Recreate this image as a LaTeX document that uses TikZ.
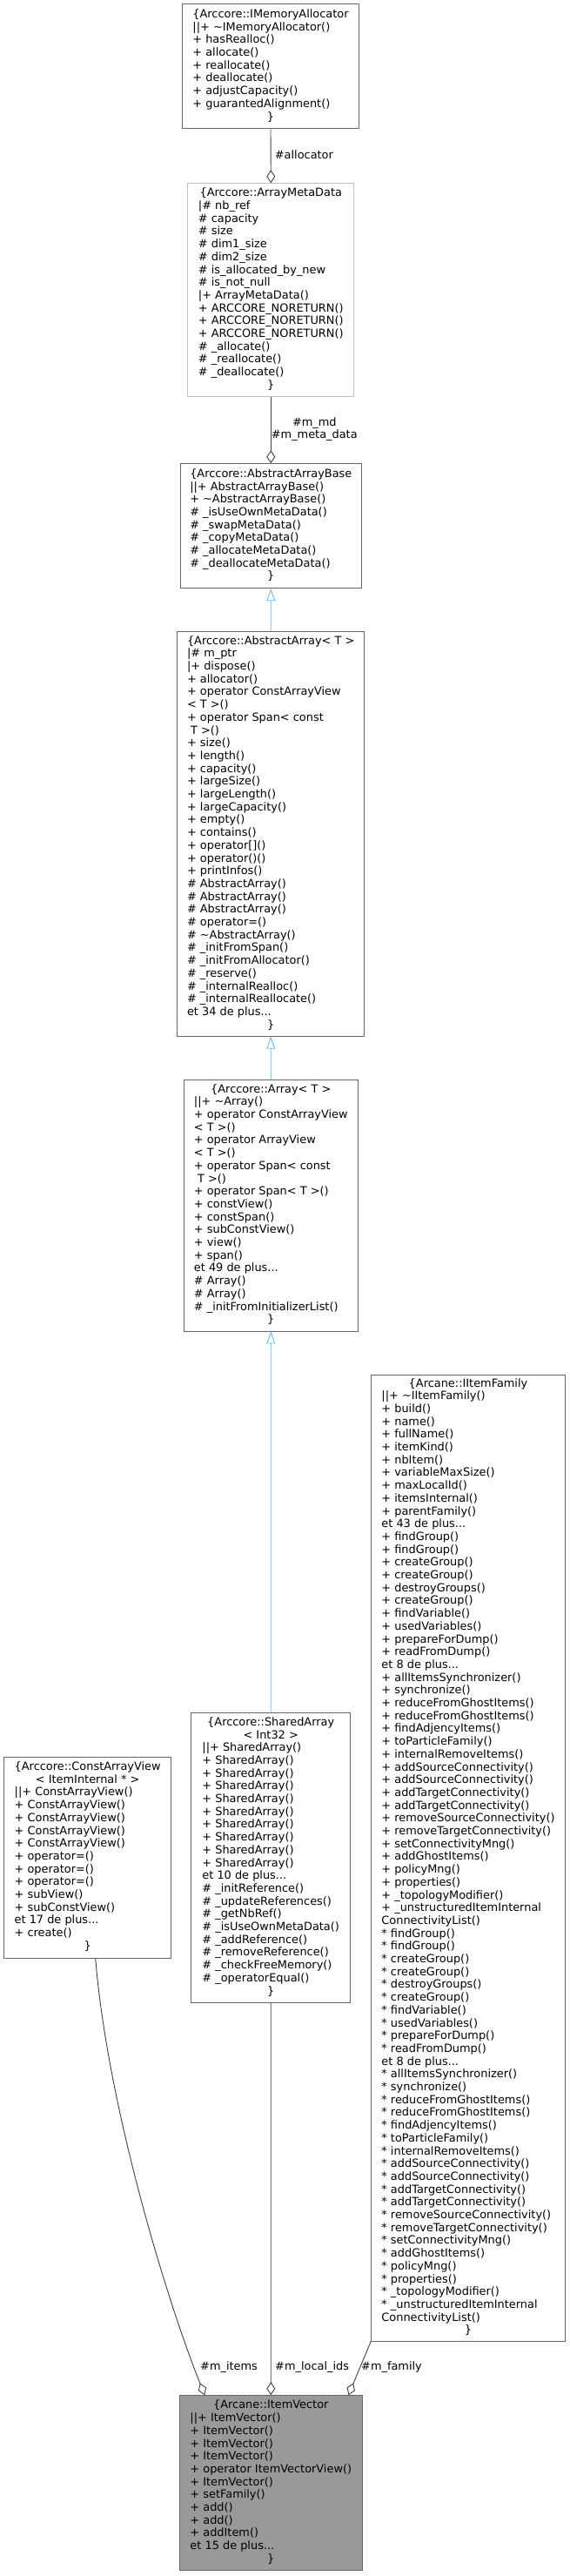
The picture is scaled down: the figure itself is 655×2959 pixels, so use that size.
\documentclass[tikz,border=0pt]{standalone}
\usepackage{fontspec}
\setmainfont{DejaVu Sans}
\usepackage{xcolor}
\definecolor{dxgray}{RGB}{102,102,102}
\definecolor{dxlight}{RGB}{191,191,191}
\definecolor{dxedge}{RGB}{64,64,64}
\definecolor{dxblue}{RGB}{99,184,255}
\definecolor{dxfill}{RGB}{153,153,153}
\usepackage{tikz}
\usetikzlibrary{arrows.meta,calc}
\newcommand{\titleline}[1]{\multicolumn{1}{@{}c@{}}{#1}}

\begin{document}
\begin{tikzpicture}[
  x=1pt, y=-1pt,
  cls/.style={draw=dxgray, line width=0.9pt, fill=white, inner sep=0pt, font=\fontsize{12.9}{14.7}\selectfont},
  agg/.style={draw=dxedge, line width=0.9pt, -{Diamond[open, length=15pt, width=10pt]}},
  inh/.style={draw=dxblue, line width=0.9pt, -{Triangle[open, length=14pt, width=10pt]}},
  lbl/.style={anchor=west, inner sep=0pt, font=\fontsize{12.9}{14}\selectfont}
]
\useasboundingbox (0,0) rectangle (655,2959);

% base classes, top column
\node[cls, minimum width=203pt, minimum height=143pt] (alloc) at (311,76.3) {\begin{tabular}{@{}l@{}}
\titleline{\{Arccore::IMemoryAllocator}\\
||+ \textasciitilde IMemoryAllocator()\\
+ hasRealloc()\\
+ allocate()\\
+ reallocate()\\
+ deallocate()\\
+ adjustCapacity()\\
+ guarantedAlignment()\\
\titleline{\}}
\end{tabular}};

\node[cls, draw=dxlight, minimum width=191pt, minimum height=245pt] (meta) at (311.3,333.2) {\begin{tabular}{@{}l@{}}
\titleline{\{Arccore::ArrayMetaData}\\
|\# nb\_ref\\
\# capacity\\
\# size\\
\# dim1\_size\\
\# dim2\_size\\
\# is\_allocated\_by\_new\\
\# is\_not\_null\\
|+ ArrayMetaData()\\
+ ARCCORE\_NORETURN()\\
+ ARCCORE\_NORETURN()\\
+ ARCCORE\_NORETURN()\\
\# \_allocate()\\
\# \_reallocate()\\
\# \_deallocate()\\
\titleline{\}}
\end{tabular}};

\node[cls, minimum width=208pt, minimum height=143pt] (abase) at (311.3,604.2) {\begin{tabular}{@{}l@{}}
\titleline{\{Arccore::AbstractArrayBase}\\
||+ AbstractArrayBase()\\
+ \textasciitilde AbstractArrayBase()\\
\# \_isUseOwnMetaData()\\
\# \_swapMetaData()\\
\# \_copyMetaData()\\
\# \_allocateMetaData()\\
\# \_deallocateMetaData()\\
\titleline{\}}
\end{tabular}};

\node[cls, minimum width=215pt, minimum height=465pt] (aarray) at (311.2,957.7) {\begin{tabular}{@{}l@{}}
\titleline{\{Arccore::AbstractArray< T >}\\
|\# m\_ptr\\
|+ dispose()\\
+ allocator()\\
+ operator ConstArrayView\\
< T >()\\
+ operator Span< const\\
\ T >()\\
+ size()\\
+ length()\\
+ capacity()\\
+ largeSize()\\
+ largeLength()\\
+ largeCapacity()\\
+ empty()\\
+ contains()\\
+ operator[]()\\
+ operator()()\\
+ printInfos()\\
\# AbstractArray()\\
\# AbstractArray()\\
\# AbstractArray()\\
\# operator=()\\
\# \textasciitilde AbstractArray()\\
\# \_initFromSpan()\\
\# \_initFromAllocator()\\
\# \_reserve()\\
\# \_internalRealloc()\\
\# \_internalReallocate()\\
et 34 de plus...\\
\titleline{\}}
\end{tabular}};

\node[cls, minimum width=200.7pt, minimum height=289pt] (arr) at (311.3,1384.5) {\begin{tabular}{@{}l@{}}
\titleline{\{Arccore::Array< T >}\\
||+ \textasciitilde Array()\\
+ operator ConstArrayView\\
< T >()\\
+ operator ArrayView\\
< T >()\\
+ operator Span< const\\
\ T >()\\
+ operator Span< T >()\\
+ constView()\\
+ constSpan()\\
+ subConstView()\\
+ view()\\
+ span()\\
et 49 de plus...\\
\# Array()\\
\# Array()\\
\# \_initFromInitializerList()\\
\titleline{\}}
\end{tabular}};

% bottom row
\node[cls, minimum width=192pt, minimum height=231pt] (cav) at (100.7,2133.5) {\begin{tabular}{@{}l@{}}
\titleline{\{Arccore::ConstArrayView}\\
\titleline{< ItemInternal * >}\\
||+ ConstArrayView()\\
+ ConstArrayView()\\
+ ConstArrayView()\\
+ ConstArrayView()\\
+ ConstArrayView()\\
+ operator=()\\
+ operator=()\\
+ operator=()\\
+ subView()\\
+ subConstView()\\
et 17 de plus...\\
+ create()\\
\titleline{\}}
\end{tabular}};

\node[cls, minimum width=183pt, minimum height=332.7pt] (shared) at (311.2,2133.7) {\begin{tabular}{@{}l@{}}
\titleline{\{Arccore::SharedArray}\\
\titleline{< Int32 >}\\
||+ SharedArray()\\
+ SharedArray()\\
+ SharedArray()\\
+ SharedArray()\\
+ SharedArray()\\
+ SharedArray()\\
+ SharedArray()\\
+ SharedArray()\\
+ SharedArray()\\
+ SharedArray()\\
et 10 de plus...\\
\# \_initReference()\\
\# \_updateReferences()\\
\# \_getNbRef()\\
\# \_isUseOwnMetaData()\\
\# \_addReference()\\
\# \_removeReference()\\
\# \_checkFreeMemory()\\
\# \_operatorEqual()\\
\titleline{\}}
\end{tabular}};

\node[cls, minimum width=222.6pt, minimum height=1110pt] (family) at (538,2134) {\begin{tabular}{@{}l@{}}
\titleline{\{Arcane::IItemFamily}\\
||+ \textasciitilde IItemFamily()\\
+ build()\\
+ name()\\
+ fullName()\\
+ itemKind()\\
+ nbItem()\\
+ variableMaxSize()\\
+ maxLocalId()\\
+ itemsInternal()\\
+ parentFamily()\\
et 43 de plus...\\
+ findGroup()\\
+ findGroup()\\
+ createGroup()\\
+ createGroup()\\
+ destroyGroups()\\
+ createGroup()\\
+ findVariable()\\
+ usedVariables()\\
+ prepareForDump()\\
+ readFromDump()\\
et 8 de plus...\\
+ allItemsSynchronizer()\\
+ synchronize()\\
+ reduceFromGhostItems()\\
+ reduceFromGhostItems()\\
+ findAdjencyItems()\\
+ toParticleFamily()\\
+ internalRemoveItems()\\
+ addSourceConnectivity()\\
+ addSourceConnectivity()\\
+ addTargetConnectivity()\\
+ addTargetConnectivity()\\
+ removeSourceConnectivity()\\
+ removeTargetConnectivity()\\
+ setConnectivityMng()\\
+ addGhostItems()\\
+ policyMng()\\
+ properties()\\
+ \_topologyModifier()\\
+ \_unstructuredItemInternal\\
ConnectivityList()\\
{*} findGroup()\\
{*} findGroup()\\
{*} createGroup()\\
{*} createGroup()\\
{*} destroyGroups()\\
{*} createGroup()\\
{*} findVariable()\\
{*} usedVariables()\\
{*} prepareForDump()\\
{*} readFromDump()\\
et 8 de plus...\\
{*} allItemsSynchronizer()\\
{*} synchronize()\\
{*} reduceFromGhostItems()\\
{*} reduceFromGhostItems()\\
{*} findAdjencyItems()\\
{*} toParticleFamily()\\
{*} internalRemoveItems()\\
{*} addSourceConnectivity()\\
{*} addSourceConnectivity()\\
{*} addTargetConnectivity()\\
{*} addTargetConnectivity()\\
{*} removeSourceConnectivity()\\
{*} removeTargetConnectivity()\\
{*} setConnectivityMng()\\
{*} addGhostItems()\\
{*} policyMng()\\
{*} properties()\\
{*} \_topologyModifier()\\
{*} \_unstructuredItemInternal\\
ConnectivityList()\\
\titleline{\}}
\end{tabular}};

\node[cls, fill=dxfill, minimum width=209.3pt, minimum height=201pt] (vec) at (311.3,2852.2) {\begin{tabular}{@{}l@{}}
\titleline{\{Arcane::ItemVector}\\
||+ ItemVector()\\
+ ItemVector()\\
+ ItemVector()\\
+ ItemVector()\\
+ operator ItemVectorView()\\
+ ItemVector()\\
+ setFamily()\\
+ add()\\
+ add()\\
+ addItem()\\
et 15 de plus...\\
\titleline{\}}
\end{tabular}};

% usage and inheritance
\draw[agg] (alloc.south) -- (meta.north);
\draw[agg] (meta.south) -- (abase.north);
\draw[inh] (aarray.north) -- (abase.south);
\draw[inh] (arr.north) -- (aarray.south);
\draw[inh] (shared.north) -- (arr.south);
\draw[agg] ($(cav.south)+(9,0)$) .. controls ($(cav.south)+(23,170)$) and ($(vec.north)+(-120,-110)$) .. ($(vec.north)+(-76,0)$);
\draw[agg] (shared.south) -- (vec.north);
\draw[agg] (family.south west) -- ($(vec.north east)+(-16,0)$);

\node[lbl] (lalloc) at (315.7,178) {\#allocator};
\node[lbl, align=center] (lmd) at (311.7,493) {\#m\_md\\\#m\_meta\_data};
\node[lbl] (litems) at (230,2719) {\#m\_items};
\node[lbl] (lids) at (316,2719) {\#m\_local\_ids};
\node[lbl] (lfamily) at (415,2719) {\#m\_family};
\end{tikzpicture}
\end{document}
